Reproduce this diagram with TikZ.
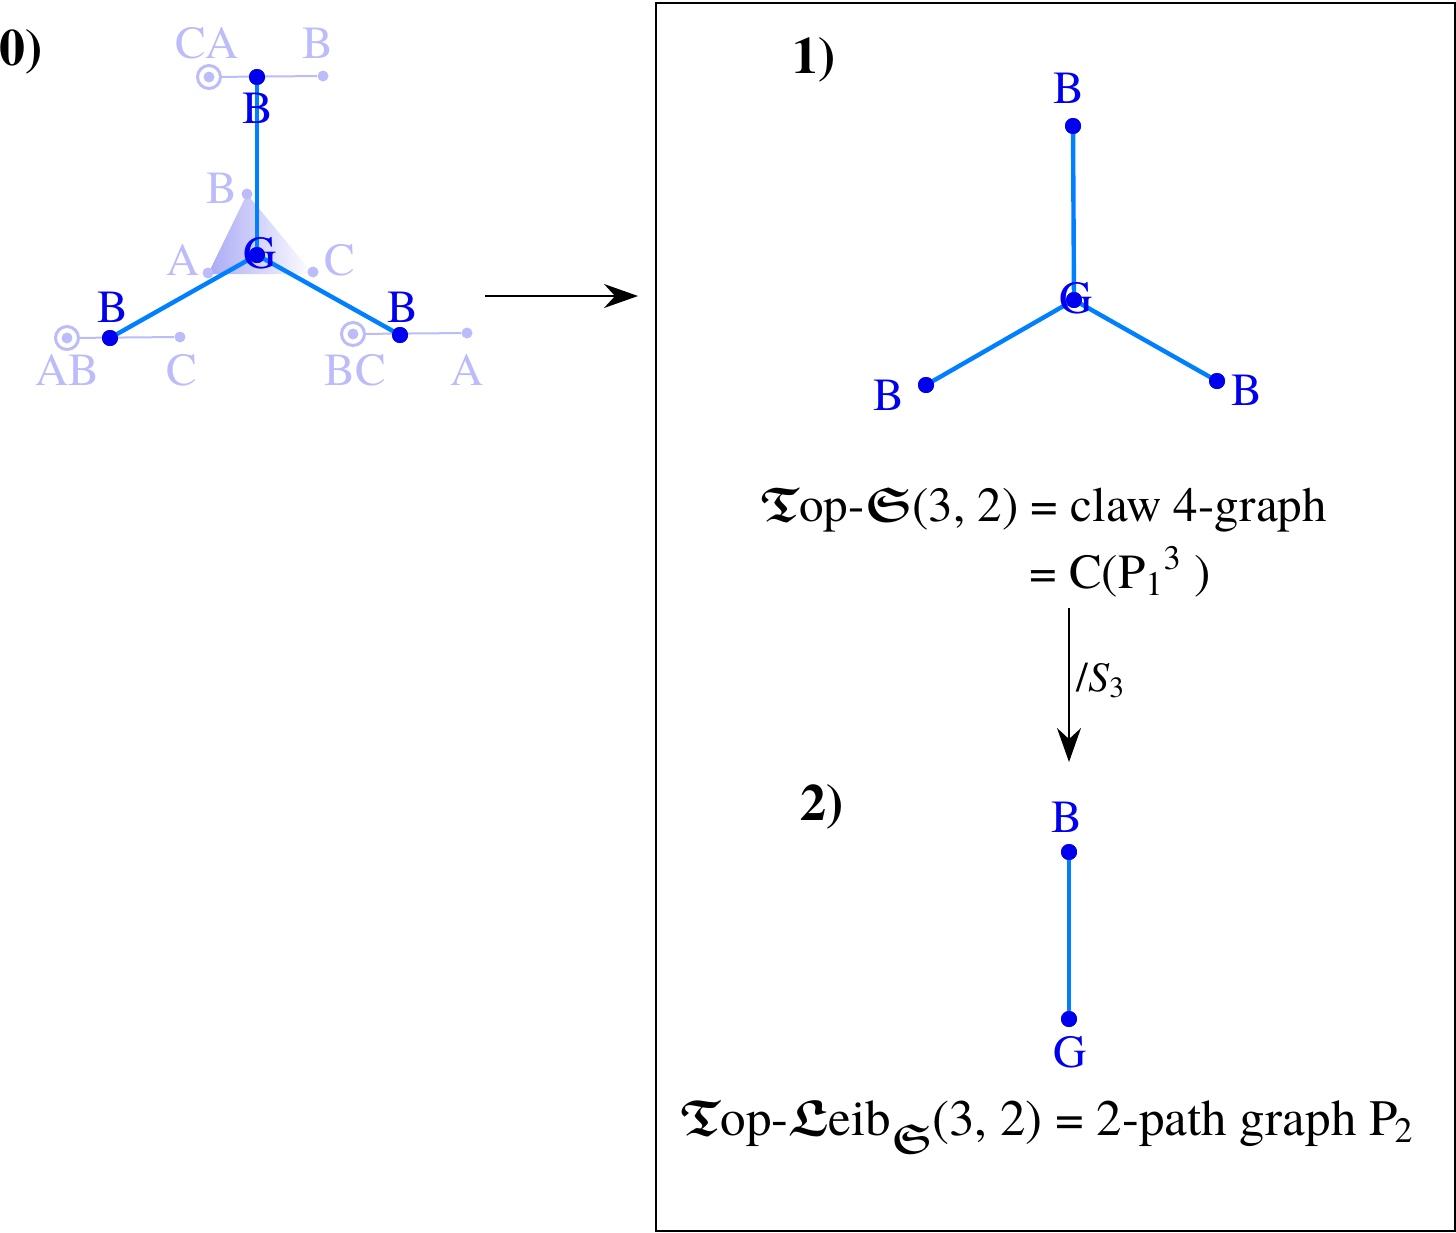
\documentclass[tikz,border=0pt]{standalone}
\usepackage{amsmath,amssymb}
\usepackage{fontspec}
\setmainfont{texgyretermes}[Extension=.otf, UprightFont=*-regular, BoldFont=*-bold, ItalicFont=*-italic, BoldItalicFont=*-bolditalic]
\usetikzlibrary{arrows.meta}
\definecolor{edgeblue}{RGB}{0,128,255}
\definecolor{dotblue}{RGB}{0,0,238}
\definecolor{lightb}{RGB}{188,188,250}
\definecolor{shadeb}{RGB}{170,170,245}
\newcommand{\bfr}[1]{\ensuremath{\boldsymbol{\mathfrak{#1}}}}
\tikzset{
  dot/.style={circle, fill=dotblue, inner sep=0pt, minimum size=8pt},
  ldot/.style={circle, fill=lightb, inner sep=0pt, minimum size=5.5pt},
  ring/.style={circle, draw=lightb, line width=1.5pt, inner sep=0pt, minimum size=11.5pt},
  lbl/.style={text=dotblue, inner sep=0pt, font=\fontsize{23}{28}\selectfont},
  llbl/.style={text=lightb, inner sep=0pt, font=\fontsize{23}{28}\selectfont},
  num/.style={inner sep=0pt, anchor=base, font=\fontsize{26}{30}\selectfont\bfseries},
  formula/.style={inner sep=0pt, anchor=base west, font=\fontsize{24.5}{29}\selectfont},
  edgeline/.style={draw=edgeblue, line width=2.2pt},
  lline/.style={draw=lightb, line width=1pt},
  maparrow/.style={draw=black, line width=0.8pt, -{Stealth[length=17pt,width=12pt]}}
}
\begin{document}
\begin{tikzpicture}[x=0.5pt,y=-0.5pt]
\useasboundingbox (0,0) rectangle (1456,1232);
% ---------- panel 0 ----------
\node[num] (n0) at (21,65) {0)};
% light triangle
\shade[left color=shadeb, right color=white] (247,194) -- (208,274) -- (313,274) -- cycle;
% light side lines
\node[ring] (rT) at (209,77) {};
\node[ldot] (iT) at (209,77) {};
\node[ldot] (eT) at (323,76) {};
\draw[lline] (rT) -- (eT);
\node[ring] (rL) at (67,338) {};
\node[ldot] (iL) at (67,338) {};
\node[ldot] (eL) at (180,337) {};
\draw[lline] (rL) -- (eL);
\node[ring] (rR) at (353,334) {};
\node[ldot] (iR) at (353,334) {};
\node[ldot] (eR) at (467,333) {};
\draw[lline] (rR) -- (eR);
% light triangle vertices
\node[ldot] (vB) at (247,194) {};
\node[ldot] (vA) at (208,273) {};
\node[ldot] (vC) at (313,272) {};
% light labels
\node[llbl] (lCA) at (207,43) {CA};
\node[llbl] (lB1) at (318,43) {B};
\node[llbl] (lAB) at (67,370) {AB};
\node[llbl] (lC1) at (182,370) {C};
\node[llbl] (lBC) at (355,370) {BC};
\node[llbl] (lA1) at (467,370) {A};
\node[llbl] (lvB) at (222,188) {B};
\node[llbl] (lvA) at (183,260) {A};
\node[llbl] (lvC) at (340,260) {C};
% claw
\node[dot] (g0) at (257,255) {};
\node[dot] (b0t) at (257,77) {};
\node[dot] (b0l) at (110,338) {};
\node[dot] (b0r) at (400,335) {};
\draw[edgeline] (g0.center) -- (b0t.center);
\draw[edgeline] (g0.center) -- (b0l.center);
\draw[edgeline] (g0.center) -- (b0r.center);
\node[dot] at (g0) {};
\node[dot] at (b0t) {};
\node[dot] at (b0l) {};
\node[dot] at (b0r) {};
\node[lbl] (lg0) at (260,253) {G};
\node[lbl] (lb0t) at (258,108) {B};
\node[lbl] (lb0l) at (113,307) {B};
\node[lbl] (lb0r) at (403,307) {B};
% ---------- arrow ----------
\coordinate (a1) at (485,296);
\coordinate (a2) at (638,296);
\draw[maparrow] (a1) -- (a2);
% ---------- box ----------
\node[draw, line width=1pt, inner sep=0pt, anchor=north west, minimum width=399.5pt, minimum height=614pt] (box) at (655,2) {};
% ---------- panel 1 ----------
\node[num] (n1) at (814,73) {1)};
\node[dot] (g1) at (1074,300) {};
\node[dot] (b1t) at (1073,126) {};
\node[dot] (b1l) at (926,385) {};
\node[dot] (b1r) at (1217,381) {};
\draw[edgeline] (g1.center) -- (b1t.center);
\draw[edgeline] (g1.center) -- (b1l.center);
\draw[edgeline] (g1.center) -- (b1r.center);
\node[dot] at (g1) {};
\node[dot] at (b1t) {};
\node[dot] at (b1l) {};
\node[dot] at (b1r) {};
\node[lbl] (lg1) at (1076,298) {G};
\node[lbl] (lb1t) at (1069,88) {B};
\node[lbl] (lb1l) at (889,395) {B};
\node[lbl] (lb1r) at (1247,390) {B};
\node[formula] (f1) at (760,521) {\bfr{T}op-\bfr{S}(3, 2) = claw 4-graph};
\node[formula] (f2) at (1029,588) {= C(P\textsubscript{1}\textsuperscript{3} )};
% quotient arrow
\coordinate (q1) at (1069,608);
\coordinate (q2) at (1069,762);
\draw[maparrow] (q1) -- (q2);
\node[inner sep=0pt, anchor=base west, font=\fontsize{21}{25}\selectfont] (qs) at (1076,691) {/\textit{S}\textsubscript{3}};
% ---------- panel 2 ----------
\node[num] (n2) at (822,820) {2)};
\node[dot] (b2) at (1069,852) {};
\node[dot] (g2) at (1069,1019) {};
\draw[edgeline] (b2.center) -- (g2.center);
\node[dot] at (b2) {};
\node[dot] at (g2) {};
\node[lbl] (lb2) at (1067,817) {B};
\node[lbl] (lg2) at (1070,1052) {G};
\node[formula, font=\fontsize{25.5}{30}\selectfont] (f3) at (680,1135) {\bfr{T}op-\bfr{L}eib\raisebox{-9pt}{\fontsize{21}{24}\selectfont\bfr{S}}(3, 2) = 2-path graph P\kern-1.5pt\textsubscript{2}};
\end{tikzpicture}
\end{document}
